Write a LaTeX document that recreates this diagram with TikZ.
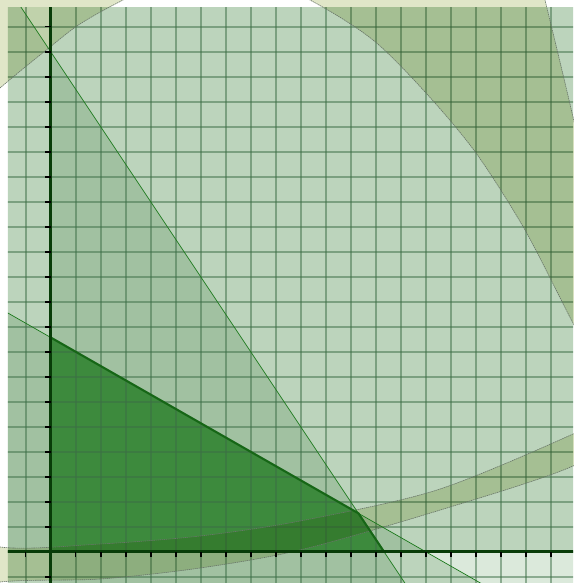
\documentclass[tikz,border=0pt]{standalone}
\definecolor{layerc}{RGB}{219,233,219}
\definecolor{ringc}{RGB}{224,230,200}
\definecolor{gridc}{RGB}{60,110,70}
\definecolor{feasc}{RGB}{61,138,61}
\definecolor{feasedge}{RGB}{22,102,22}
\definecolor{thinc}{RGB}{30,122,30}
\definecolor{axisc}{RGB}{8,60,8}
\definecolor{ringedge}{RGB}{105,118,105}
\tikzset{
  layerfill/.style={fill=layerc, blend mode=multiply},
  ringfill/.style={fill=ringc, blend mode=multiply, even odd rule},
  ringline/.style={draw=ringedge, line width=0.7pt, dash pattern=on 1.6pt off 0.8pt},
  gridline/.style={draw=gridc, draw opacity=0.5, line width=1.9pt},
  thinline/.style={draw=thinc, line width=0.8pt},
  edgeline/.style={draw=feasedge, line width=2.4pt, line join=round},
  axisline/.style={draw=axisc, line width=3.2pt},
  tickmark/.style={draw=black, line width=1.8pt}
}
\begin{document}
\begin{tikzpicture}[x=0.04cm,y=-0.04cm]
\useasboundingbox (0,0) rectangle (573,583);
% math scope: origin at axes origin, 1 unit = 25 px
\begin{scope}[shift={(50.7,551.8)},x=1cm,y=1cm]
  \clip (-1.708,-1.248) rectangle (20.892,21.752);
  % constraint layers
  \fill[layerfill] (0,-2) rectangle (22,23);
  \fill[layerfill] (-3,0) rectangle (22,23);
  \fill[layerfill] (-3,-2) -- (14.667,-2) -- (-2,23) -- (-3,23) -- cycle;
  \fill[layerfill] (-3,-2) -- (18.5,-2) -- (-3,10.286) -- cycle;
  % feasible region
  \coordinate (O) at (0,0);
  \coordinate (A) at (13.3333,0);
  \coordinate (B) at (12.3077,1.5385);
  \coordinate (Cc) at (0,8.5714);
  \fill[feasc] (O) -- (A) -- (B) -- (Cc) -- cycle;
  % grid
  \foreach \i in {-1,...,20} \draw[gridline] (\i,-2) -- (\i,23);
  \foreach \j in {-1,...,21} \draw[gridline] (-3,\j) -- (22,\j);
\end{scope}
% ring (background swoosh)
\fill[ringfill]
  plot[smooth cycle] coordinates {(545,0) (573,117) (610,280) (640,420) (573,466) (437,511) (300,550) (200,568) (100,579) (0,582) (-100,600) (-250,300) (-150,-80) (200,-130) (520,-100)}
  plot[smooth cycle] coordinates {(0,88) (50,47) (80,24) (123,0) (215,-45) (310,0) (373,40) (426,93) (476,153) (525,230) (573,323) (600,370) (615,410) (573,434) (437,490) (300,521) (200,536) (100,544) (0,547) (-90,520) (-160,300) (-70,150)};
\draw[ringline] plot[smooth cycle] coordinates {(545,0) (573,117) (610,280) (640,420) (573,466) (437,511) (300,550) (200,568) (100,579) (0,582) (-100,600) (-250,300) (-150,-80) (200,-130) (520,-100)};
\draw[ringline] plot[smooth cycle] coordinates {(0,88) (50,47) (80,24) (123,0) (215,-45) (310,0) (373,40) (426,93) (476,153) (525,230) (573,323) (600,370) (615,410) (573,434) (437,490) (300,521) (200,536) (100,544) (0,547) (-90,520) (-160,300) (-70,150)};
\begin{scope}[shift={(50.7,551.8)},x=1cm,y=1cm]
  \clip (-1.708,-1.248) rectangle (20.892,21.752);
  \coordinate (O) at (0,0);
  \coordinate (A) at (13.3333,0);
  \coordinate (B) at (12.3077,1.5385);
  \coordinate (Cc) at (0,8.5714);
  \coordinate (L1a) at (-2,23);
  \coordinate (L1b) at (14.667,-2);
  \coordinate (L2a) at (-3,10.286);
  \coordinate (L2b) at (18.5,-2);
  \draw[thinline] (L1a) -- (L1b);
  \draw[thinline] (L2a) -- (L2b);
  \draw[edgeline] (Cc) -- (B) -- (A);
  \coordinate (Xa) at (-2,0);
  \coordinate (Xb) at (22,0);
  \coordinate (Ya) at (0,-2);
  \coordinate (Yb) at (0,23);
  \draw[axisline] (Xa) -- (Xb);
  \draw[axisline] (Ya) -- (Yb);
  \foreach \i in {-1,1,2,...,20} \draw[tickmark] (\i,0) -- (\i,-0.22);
  \foreach \j in {-1,1,2,...,21} \draw[tickmark] (0,\j) -- (-0.22,\j);
\end{scope}
\end{tikzpicture}
\end{document}
